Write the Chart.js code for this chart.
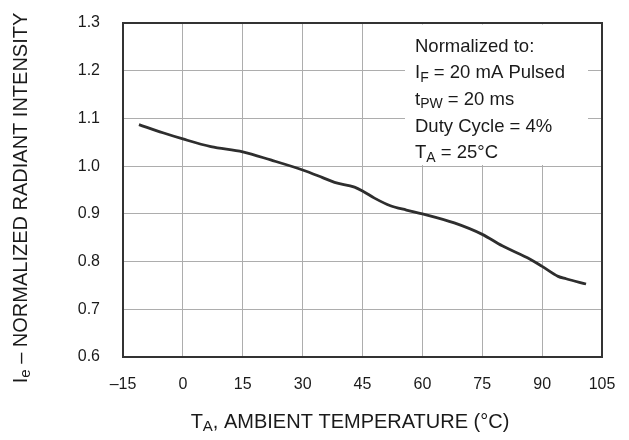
<!DOCTYPE html>
<html>
<head>
<meta charset="utf-8">
<script src="https://cdn.jsdelivr.net/npm/chart.js@4/dist/chart.umd.min.js"></script>
<style>
  html, body { margin: 0; padding: 0; background: #fff; }
  #wrap { width: 629px; height: 440px; }
</style>
</head>
<body>
<div id="wrap"><canvas id="c"></canvas></div>
<script>
// curve
var temps = [-11, -5, 0, 7, 15, 22, 30, 35, 38, 43, 45, 48, 52, 56, 60, 68, 75, 80, 87, 90, 94, 96, 101]
var intensity = [1.087, 1.070, 1.057, 1.041, 1.030, 1.013, 0.992, 0.976, 0.966, 0.956, 0.948, 0.933, 0.917, 0.908, 0.900, 0.881, 0.857, 0.833, 0.805, 0.790, 0.769, 0.764, 0.753]
var xTicks = [-15, 0, 15, 30, 45, 60, 75, 90, 105]
var yTicks = [0.6, 0.7, 0.8, 0.9, 1.0, 1.1, 1.2, 1.3]
var noteLines = [
  ['Normalized to:', ''],
  ['I', 'F', ' = 20 mA Pulsed'],
  ['t', 'PW', ' = 20 ms'],
  ['Duty Cycle = 4%', ''],
  ['T', 'A', ' = 25\u00B0C']
]

var FONT = '"Liberation Sans", Arial, Helvetica, sans-serif'

// draws "main" + subscript + rest starting at x, returns end x
function subText (ctx, x, y, parts, size) {
  ctx.font = size + 'px ' + FONT
  ctx.fillText(parts[0], x, y)
  x += ctx.measureText(parts[0]).width
  if (parts[1]) {
    ctx.font = Math.round(size * 0.75) + 'px ' + FONT
    ctx.fillText(parts[1], x, y + size * 0.25)
    x += ctx.measureText(parts[1]).width
    ctx.font = size + 'px ' + FONT
  }
  if (parts[2]) {
    ctx.fillText(parts[2], x, y)
    x += ctx.measureText(parts[2]).width
  }
  return x
}

function partsWidth (ctx, parts, size) {
  ctx.font = size + 'px ' + FONT
  var w = ctx.measureText(parts[0]).width + (parts[2] ? ctx.measureText(parts[2]).width : 0)
  ctx.font = Math.round(size * 0.75) + 'px ' + FONT
  if (parts[1]) w += ctx.measureText(parts[1]).width
  return w
}

// keep the scales from pushing the plot area in
function noPad (scale) {
  scale.paddingTop = 0
  scale.paddingBottom = 0
  scale.paddingLeft = 0
  scale.paddingRight = 0
}

var extras = {
  id: 'extras',
  beforeDatasetsDraw: function (chart) {
    var ctx = chart.ctx
    var a = chart.chartArea
    // white note box hiding the grid
    ctx.save()
    ctx.fillStyle = '#fff'
    ctx.fillRect(405, a.top + 1.5, 183, 165 - a.top - 1.5)
    ctx.fillStyle = '#1a1a1a'
    ctx.textBaseline = 'middle'
    for (var i = 0; i < noteLines.length; i++) {
      subText(ctx, 415, 46.5 + i * 26.7, noteLines[i], 18.5)
    }
    ctx.restore()
  },
  afterDraw: function (chart) {
    var ctx = chart.ctx
    var a = chart.chartArea
    ctx.save()
    ctx.strokeStyle = '#333'
    ctx.lineWidth = 2
    ctx.strokeRect(a.left, a.top, a.right - a.left, a.bottom - a.top)

    ctx.fillStyle = '#1a1a1a'
    ctx.textBaseline = 'middle'
    // x title
    var xt = ['T', 'A', ', AMBIENT TEMPERATURE (\u00B0C)']
    var w = partsWidth(ctx, xt, 20)
    subText(ctx, 350 - w / 2, 422, xt, 20)
    // y title, rotated
    ctx.translate(21, 198)
    ctx.rotate(-Math.PI / 2)
    var yt = ['I', 'e', ' \u2013 NORMALIZED RADIANT INTENSITY']
    w = partsWidth(ctx, yt, 20)
    subText(ctx, -w / 2, 0, yt, 20)
    ctx.restore()
  }
}

var points = temps.map(function (t, i) { return { x: t, y: intensity[i] } })

new Chart(document.getElementById('c'), {
  type: 'line',
  data: {
    datasets: [{
      data: points,
      borderColor: '#2e2e2e',
      borderWidth: 2.8,
      pointRadius: 0,
      fill: false,
      cubicInterpolationMode: 'monotone'
    }]
  },
  options: {
    responsive: true,
    maintainAspectRatio: false,
    animation: false,
    layout: { padding: { top: 23, right: 27, left: 0, bottom: 0 } },
    plugins: { legend: { display: false }, tooltip: { enabled: false } },
    scales: {
      x: {
        type: 'linear',
        min: -15,
        max: 105,
        afterBuildTicks: function (scale) {
          scale.ticks = xTicks.map(function (v) { return { value: v } })
        },
        afterFit: function (scale) { scale.height = 83; noPad(scale) },
        grid: { color: '#adadad', lineWidth: 1, drawTicks: false },
        border: { display: false },
        ticks: {
          padding: 18,
          color: '#1a1a1a',
          font: { family: FONT, size: 16 },
          maxRotation: 0,
          callback: function (v) { return v < 0 ? '\u2013' + Math.abs(v) : String(v) }
        }
      },
      y: {
        min: 0.6,
        max: 1.3,
        afterBuildTicks: function (scale) {
          scale.ticks = yTicks.map(function (v) { return { value: v } })
        },
        afterFit: function (scale) { scale.width = 123; noPad(scale) },
        grid: { color: '#adadad', lineWidth: 1, drawTicks: false },
        border: { display: false },
        ticks: {
          padding: 23,
          color: '#1a1a1a',
          font: { family: FONT, size: 16 },
          callback: function (v) { return Number(v).toFixed(1) }
        }
      }
    }
  },
  plugins: [extras]
})
</script>
</body>
</html>
